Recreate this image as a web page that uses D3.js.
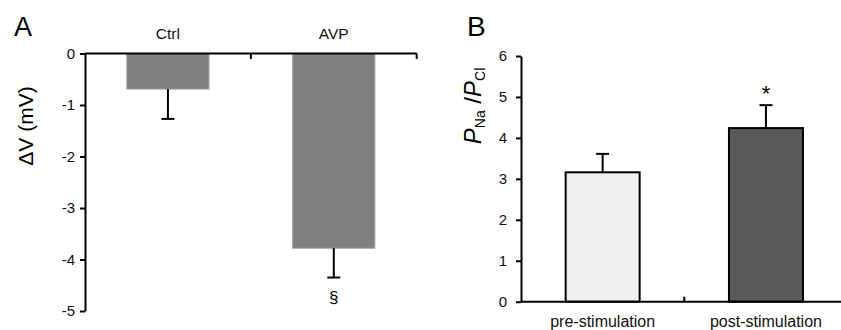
<!DOCTYPE html>
<html>
<head>
<meta charset="utf-8">
<script src="https://cdn.jsdelivr.net/npm/d3@7"></script>
<style>
  html, body { margin: 0; padding: 0; background: #fff; }
  svg { display: block; font-family: "Liberation Sans", Arial, sans-serif; }
</style>
</head>
<body>
<svg id="chart" width="841" height="330"></svg>
<script>
// ---- Data ----
const catsA = ["Ctrl", "AVP"];
const meanA = [-0.69, -3.78];
const errA = [0.58, 0.57];
const marksA = ["", "§"];
const ticksA = [0, -1, -2, -3, -4, -5];

const catsB = ["pre-stimulation", "post-stimulation"];
const meanB = [3.16, 4.24];
const errB = [0.45, 0.56];
const marksB = ["", "*"];
const ticksB = [0, 1, 2, 3, 4, 5, 6];

// ---- Styles ----
const fillA = "#808080";
const fillsB = ["#f0f0f0", "#595959"];
const ink = "#000";

const svg = d3.select("#chart");

// ================= Panel A =================
const yA = d3.scaleLinear().domain([0, -5]).range([53.5, 311]);
const xA = d3.scaleBand().domain(catsA).range([85, 416.7]).padding(0);
const barWA = xA.bandwidth() * 0.495;
const gA = svg.append("g");

// bars
gA.selectAll("rect.bar").data(catsA).enter().append("rect")
  .attr("x", d => xA(d) + xA.bandwidth() / 2 - barWA / 2)
  .attr("y", yA(0))
  .attr("width", barWA)
  .attr("height", (d, i) => yA(meanA[i]) - yA(0))
  .attr("fill", fillA)
  .attr("stroke", "#9a9a9a")
  .attr("stroke-width", 1);

// error bars (downward)
catsA.forEach((c, i) => {
  const cx = xA(c) + xA.bandwidth() / 2;
  gA.append("line").attr("x1", cx).attr("x2", cx)
    .attr("y1", yA(meanA[i])).attr("y2", yA(meanA[i] - errA[i]))
    .attr("stroke", ink).attr("stroke-width", 2);
  gA.append("line").attr("x1", cx - 6.5).attr("x2", cx + 6.5)
    .attr("y1", yA(meanA[i] - errA[i])).attr("y2", yA(meanA[i] - errA[i]))
    .attr("stroke", ink).attr("stroke-width", 2);
  if (marksA[i]) {
    gA.append("text").attr("x", cx).attr("y", yA(meanA[i] - errA[i]) + 25)
      .attr("text-anchor", "middle").attr("font-size", 17).attr("fill", ink)
      .text(marksA[i]);
  }
});

// y axis
const axA = gA.append("g").attr("transform", "translate(85,0)")
  .call(d3.axisLeft(yA).tickValues(ticksA).tickSize(5).tickSizeOuter(0).tickPadding(5)
    .tickFormat(d3.format("d")));
axA.select(".domain").attr("stroke-width", 2).attr("stroke", ink);
axA.selectAll(".tick line").attr("stroke-width", 2).attr("stroke", ink);
axA.selectAll(".tick text").attr("font-size", 15).attr("fill", "#111")
  .attr("font-family", "Liberation Sans, Arial, sans-serif").text(d => d === 0 ? "0" : String(d).replace("−", "-"));

// x axis at top (y=0)
gA.append("line").attr("x1", xA.range()[0]).attr("x2", xA.range()[1])
  .attr("y1", yA(0)).attr("y2", yA(0)).attr("stroke", ink).attr("stroke-width", 2);
gA.selectAll("line.xt").data(catsA).enter().append("line")
  .attr("x1", d => xA(d) + xA.bandwidth()).attr("x2", d => xA(d) + xA.bandwidth())
  .attr("y1", yA(0)).attr("y2", yA(0) + 5.5)
  .attr("stroke", ink).attr("stroke-width", 2);
gA.selectAll("text.cat").data(catsA).enter().append("text")
  .attr("x", d => xA(d) + xA.bandwidth() / 2).attr("y", 39)
  .attr("text-anchor", "middle").attr("font-size", 15.5).attr("fill", "#111")
  .text(d => d);

// y title
gA.append("text").attr("transform", "translate(32.5,126) rotate(-90)")
  .attr("text-anchor", "middle").attr("font-size", 21).attr("fill", ink)
  .text("ΔV (mV)");

// panel label
svg.append("text").attr("x", 14).attr("y", 36).attr("font-size", 27).attr("fill", ink).text("A");

// ================= Panel B =================
const yB = d3.scaleLinear().domain([0, 6]).range([301.7, 56]);
const xB = d3.scaleBand().domain(catsB).range([521, 847.6]).padding(0);
const barWB = xB.bandwidth() * 0.453;
const gB = svg.append("g");

gB.selectAll("rect.bar").data(catsB).enter().append("rect")
  .attr("x", d => xB(d) + xB.bandwidth() / 2 - barWB / 2)
  .attr("y", (d, i) => yB(meanB[i]))
  .attr("width", barWB)
  .attr("height", (d, i) => yB(0) - yB(meanB[i]))
  .attr("fill", (d, i) => fillsB[i])
  .attr("stroke", ink)
  .attr("stroke-width", 2);

catsB.forEach((c, i) => {
  const cx = xB(c) + xB.bandwidth() / 2;
  gB.append("line").attr("x1", cx).attr("x2", cx)
    .attr("y1", yB(meanB[i])).attr("y2", yB(meanB[i] + errB[i]))
    .attr("stroke", ink).attr("stroke-width", 2);
  gB.append("line").attr("x1", cx - 6.5).attr("x2", cx + 6.5)
    .attr("y1", yB(meanB[i] + errB[i])).attr("y2", yB(meanB[i] + errB[i]))
    .attr("stroke", ink).attr("stroke-width", 2);
  if (marksB[i]) {
    gB.append("text").attr("x", cx).attr("y", yB(meanB[i] + errB[i]) - 4)
      .attr("text-anchor", "middle").attr("font-size", 22).attr("fill", ink)
      .text(marksB[i]);
  }
});

const axB = gB.append("g").attr("transform", "translate(521,0)")
  .call(d3.axisLeft(yB).tickValues(ticksB).tickSize(5).tickSizeOuter(0).tickPadding(9)
    .tickFormat(d3.format("d")));
axB.select(".domain").attr("stroke-width", 2).attr("stroke", ink);
axB.selectAll(".tick line").attr("stroke-width", 2).attr("stroke", ink);
axB.selectAll(".tick text").attr("font-size", 15).attr("fill", "#111")
  .attr("font-family", "Liberation Sans, Arial, sans-serif");

gB.append("line").attr("x1", xB.range()[0]).attr("x2", xB.range()[1])
  .attr("y1", yB(0)).attr("y2", yB(0)).attr("stroke", ink).attr("stroke-width", 2);
gB.selectAll("line.xt").data(catsB.slice(0, 1)).enter().append("line")
  .attr("x1", d => xB(d) + xB.bandwidth()).attr("x2", d => xB(d) + xB.bandwidth())
  .attr("y1", yB(0)).attr("y2", yB(0) - 5)
  .attr("stroke", ink).attr("stroke-width", 2);
gB.selectAll("text.cat").data(catsB).enter().append("text")
  .attr("x", d => xB(d) + xB.bandwidth() / 2).attr("y", 327)
  .attr("text-anchor", "middle").attr("font-size", 16).attr("fill", "#111")
  .text(d => d);

// y title P_Na / P_Cl
const tB = gB.append("text").attr("transform", "translate(481,106) rotate(-90)")
  .attr("text-anchor", "middle").attr("font-size", 24).attr("fill", ink);
tB.append("tspan").attr("font-style", "italic").text("P");
tB.append("tspan").attr("font-size", 14).attr("dy", 4).text("Na");
tB.append("tspan").attr("dy", -4).text(" /");
tB.append("tspan").attr("font-style", "italic").text("P");
tB.append("tspan").attr("font-size", 14).attr("dy", 4).text("Cl");

svg.append("text").attr("x", 467).attr("y", 36).attr("font-size", 28).attr("fill", ink).text("B");
</script>
</body>
</html>
